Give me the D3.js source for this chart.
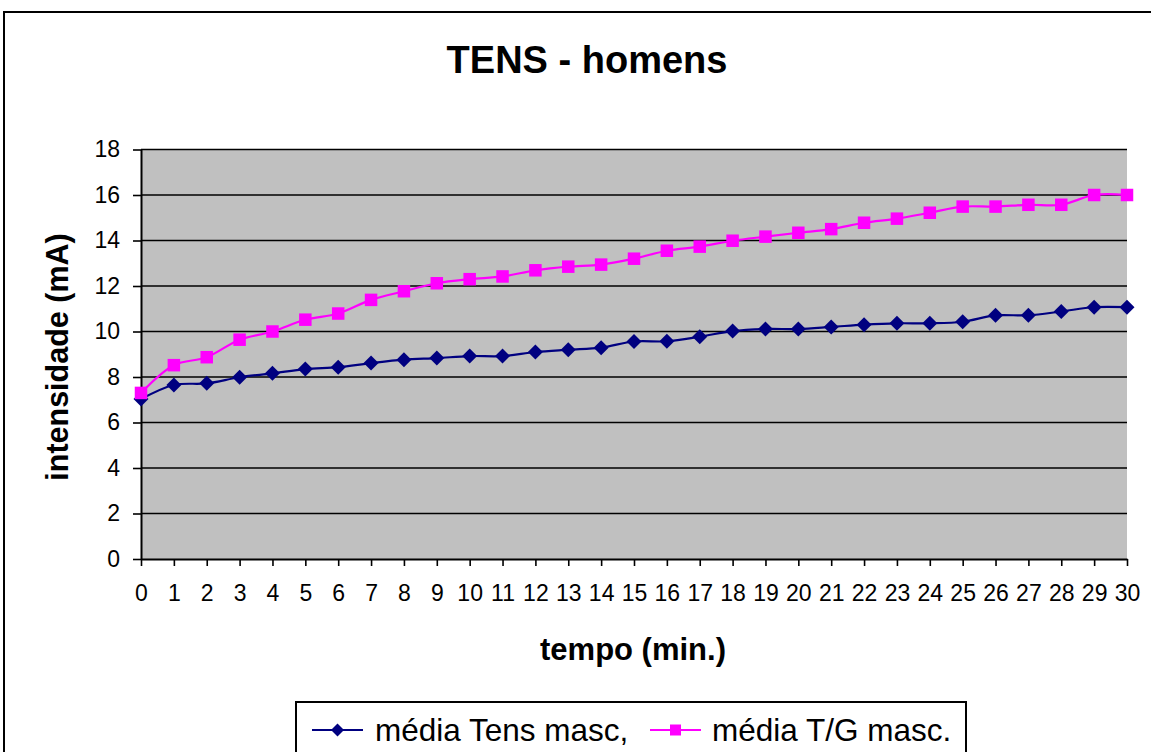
<!DOCTYPE html>
<html>
<head>
<meta charset="utf-8">
<script src="https://cdn.jsdelivr.net/npm/d3@7/dist/d3.min.js"></script>
<style>
  html, body { margin: 0; padding: 0; background: #fff; }
  svg { display: block; font-family: "Liberation Sans", Arial, sans-serif; }
</style>
</head>
<body>
<svg id="chart" width="1151" height="752"></svg>
<script>
// ---- data ----
const minutes = [0,1,2,3,4,5,6,7,8,9,10,11,12,13,14,15,16,17,18,19,20,21,22,23,24,25,26,27,28,29,30];
const tensMasc = [7.03, 7.65, 7.72, 7.99, 8.16, 8.35, 8.43, 8.61, 8.76, 8.83, 8.92, 8.92, 9.10, 9.20, 9.29, 9.56, 9.57, 9.77, 10.02, 10.11, 10.11, 10.20, 10.30, 10.36, 10.36, 10.43, 10.71, 10.71, 10.88, 11.07, 11.07];
const tgMasc = [7.30, 8.52, 8.87, 9.64, 10.00, 10.52, 10.79, 11.39, 11.77, 12.12, 12.30, 12.42, 12.69, 12.85, 12.94, 13.20, 13.55, 13.73, 13.99, 14.17, 14.34, 14.50, 14.78, 14.96, 15.22, 15.49, 15.49, 15.57, 15.57, 16.00, 16.00];
const yTicks = [0,2,4,6,8,10,12,14,16,18];
const seriesNames = ["média Tens masc,", "média T/G masc."];
const titleText = "TENS - homens";
const xTitle = "tempo (min.)";
const yTitle = "intensidade (mA)";

const svg = d3.select("#chart");

// chart area border
svg.append("rect").attr("x", 4).attr("y", 12).attr("width", 1160).attr("height", 780)
  .attr("fill", "#fff").attr("stroke", "#000").attr("stroke-width", 2);

const x = d3.scaleLinear().domain([0, 30]).range([141, 1127]);
const y = d3.scaleLinear().domain([0, 18]).range([559, 149.5]);

// plot background
svg.append("rect").attr("x", x(0)).attr("y", y(18))
  .attr("width", x(30) - x(0)).attr("height", y(0) - y(18)).attr("fill", "#C0C0C0");

// gridlines
svg.append("g").selectAll("line").data(yTicks.filter(d => d > 0)).join("line")
  .attr("x1", x(0)).attr("x2", x(30)).attr("y1", d => y(d)).attr("y2", d => y(d))
  .attr("stroke", "#000").attr("stroke-width", 1.6);

// y axis
const yAxis = svg.append("g").attr("transform", `translate(${x(0)},0)`)
  .call(d3.axisLeft(y).tickValues(yTicks).tickSize(8).tickPadding(13).tickSizeOuter(0));
yAxis.select(".domain").attr("stroke-width", 2);
yAxis.selectAll(".tick line").attr("stroke-width", 1.6);
yAxis.selectAll("text").attr("font-size", 23).attr("fill", "#000")
  .attr("font-family", "Liberation Sans, Arial, sans-serif");

// x axis
const xAxis = svg.append("g").attr("transform", `translate(0,${y(0)})`)
  .call(d3.axisBottom(x).tickValues(minutes).tickFormat(d3.format("d")).tickSize(7).tickPadding(19).tickSizeOuter(0));
xAxis.select(".domain").attr("stroke-width", 2);
xAxis.selectAll(".tick line").attr("stroke-width", 1.6);
xAxis.selectAll("text").attr("font-size", 23).attr("fill", "#000")
  .attr("font-family", "Liberation Sans, Arial, sans-serif");

// lines
const line = d3.line().x((d, i) => x(minutes[i])).y(d => y(d)).curve(d3.curveCatmullRom.alpha(0.5));
svg.append("path").datum(tensMasc).attr("d", line)
  .attr("fill", "none").attr("stroke", "#000080").attr("stroke-width", 2.2);
svg.append("path").datum(tgMasc).attr("d", line)
  .attr("fill", "none").attr("stroke", "#FF00FF").attr("stroke-width", 2.2);

// markers
const diamond = s => `M0,${-s}L${s},0L0,${s}L${-s},0Z`;
svg.append("g").selectAll("path").data(tensMasc).join("path")
  .attr("transform", (d, i) => `translate(${x(minutes[i])},${y(d)})`)
  .attr("d", diamond(7.5)).attr("fill", "#000080");
svg.append("g").selectAll("rect").data(tgMasc).join("rect")
  .attr("x", (d, i) => x(minutes[i]) - 6.25).attr("y", d => y(d) - 6.25)
  .attr("width", 12.5).attr("height", 12.5).attr("fill", "#FF00FF");

// title
svg.append("text").attr("x", 587).attr("y", 73).attr("text-anchor", "middle")
  .attr("font-size", 38).attr("font-weight", "bold").text(titleText);

// axis titles
svg.append("text").attr("x", 633).attr("y", 660).attr("text-anchor", "middle")
  .attr("font-size", 31).attr("font-weight", "bold").text(xTitle);
svg.append("text").attr("transform", "translate(68,357) rotate(-90)").attr("text-anchor", "middle")
  .attr("font-size", 30.5).attr("font-weight", "bold").text(yTitle);

// legend
svg.append("rect").attr("x", 296).attr("y", 702).attr("width", 670).attr("height", 70)
  .attr("fill", "#fff").attr("stroke", "#000").attr("stroke-width", 2);
const legItems = [
  {name: seriesNames[0], color: "#000080", lx: 312, tx: 375, shape: "diamond"},
  {name: seriesNames[1], color: "#FF00FF", lx: 650, tx: 712, shape: "square"}
];
const lg = svg.append("g").selectAll("g").data(legItems).join("g");
lg.append("line").attr("x1", d => d.lx).attr("x2", d => d.lx + 51).attr("y1", 730).attr("y2", 730)
  .attr("stroke", d => d.color).attr("stroke-width", 2.2);
lg.filter(d => d.shape === "diamond").append("path")
  .attr("transform", d => `translate(${d.lx + 25.5},730)`).attr("d", diamond(6.5)).attr("fill", d => d.color);
lg.filter(d => d.shape === "square").append("rect")
  .attr("x", d => d.lx + 20).attr("y", 724.5).attr("width", 11).attr("height", 11).attr("fill", d => d.color);
lg.append("text").attr("x", d => d.tx).attr("y", 741).attr("font-size", 31.5).text(d => d.name);
</script>
</body>
</html>
